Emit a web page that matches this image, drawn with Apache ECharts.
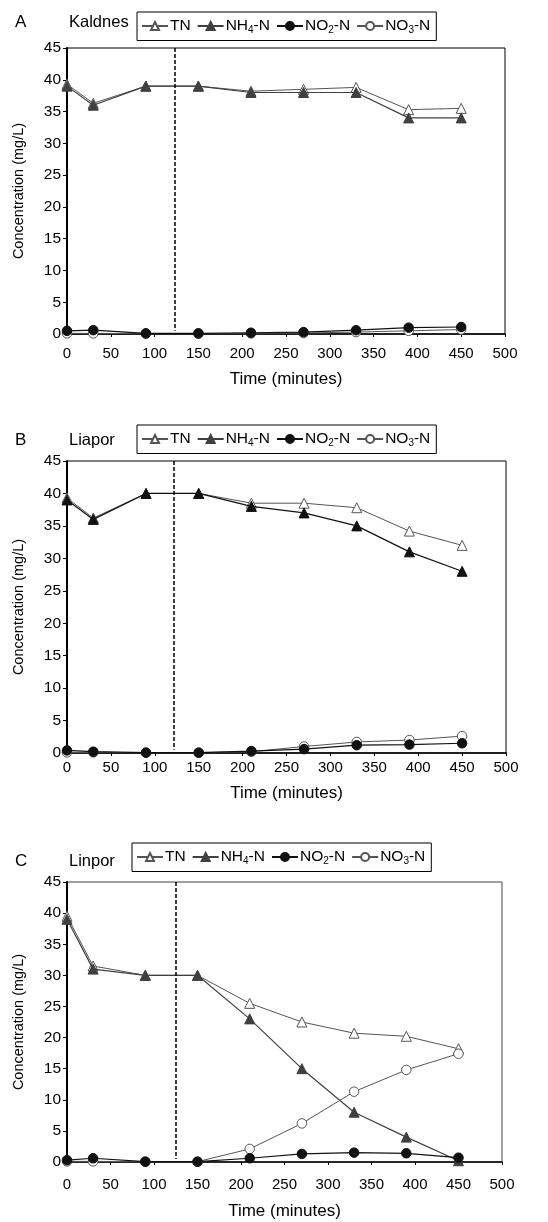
<!DOCTYPE html>
<html>
<head>
<meta charset="utf-8">
<script src="https://cdn.jsdelivr.net/npm/echarts@6/dist/echarts.min.js"></script>
<style>html,body{margin:0;padding:0;background:#fff;}#c{width:548px;height:1222px;}</style>
</head>
<body>
<div id="c"></div>
<script>
const times = [0, 30, 90, 150, 210, 270, 330, 390, 450];
const xTicks = [0, 50, 100, 150, 200, 250, 300, 350, 400, 450, 500];
const yTicks = [0, 5, 10, 15, 20, 25, 30, 35, 40, 45];
const seriesNames = ['TN', 'NH4-N', 'NO2-N', 'NO3-N'];
const panelLetters = ['A', 'B', 'C'];
const panelNames = ['Kaldnes', 'Liapor', 'Linpor'];
const aerationStop = [123, 122, 125];

const kaldnesTN  = [39.3, 36.3, 39.0, 39.0, 38.2, 38.5, 38.8, 35.3, 35.5];
const kaldnesNH4 = [39.0, 36.0, 39.0, 39.0, 38.0, 38.0, 38.0, 34.0, 34.0];
const kaldnesNO2 = [0.5, 0.6, 0.1, 0.1, 0.2, 0.3, 0.6, 1.0, 1.1];
const kaldnesNO3 = [0.1, 0.1, 0.05, 0.05, 0.1, 0.15, 0.3, 0.5, 0.7];

const liaporTN  = [39.3, 36.2, 40.0, 40.0, 38.5, 38.5, 37.8, 34.2, 32.0];
const liaporNH4 = [39.0, 36.0, 40.0, 40.0, 38.0, 37.0, 35.0, 31.0, 28.0];
const liaporNO2 = [0.4, 0.2, 0.05, 0.05, 0.3, 0.6, 1.2, 1.3, 1.5];
const liaporNO3 = [0.1, 0.1, 0.05, 0.05, 0.2, 1.0, 1.7, 2.0, 2.6];

const linporTN  = [39.5, 31.5, 30.0, 30.0, 25.5, 22.5, 20.7, 20.2, 18.2];
const linporNH4 = [39.0, 31.0, 30.0, 30.0, 23.0, 15.0, 8.0, 4.0, 0.2];
const linporNO2 = [0.3, 0.6, 0.05, 0.05, 0.6, 1.3, 1.5, 1.4, 0.7];
const linporNO3 = [0.1, 0.1, 0.05, 0.05, 2.1, 6.2, 11.3, 14.8, 17.4];

const panelData = [
  [kaldnesTN, kaldnesNH4, kaldnesNO2, kaldnesNO3],
  [liaporTN, liaporNH4, liaporNO2, liaporNO3],
  [linporTN, linporNH4, linporNO2, linporNO3]
];

const FONT = 'Liberation Sans, Arial, sans-serif';
const grids = [
  {left: 67, top: 48, width: 438, height: 286, borderColor: '#000'},
  {left: 67, top: 461, width: 439, height: 292, borderColor: '#000'},
  {left: 67, top: 882, width: 435, height: 280, borderColor: '#444'}
];
const labelMargins = [12, 7, 15];
const nameGaps = [37, 32, 41];
const legendPos = [{left: 137, top: 12}, {left: 137, top: 425}, {left: 132, top: 843}];
const titleTops = [9, 427, 848];
const nh4Colors = ['#404040', '#111', '#404040'];

const pair = (arr) => times.map((t, i) => [t, arr[i]]);

const option = {
  backgroundColor: '#fff',
  animation: false,
  textStyle: {fontFamily: FONT},
  grid: grids.map(g => Object.assign({show: true, borderWidth: 1, backgroundColor: 'transparent'}, g)),
  title: [],
  legend: [],
  xAxis: [],
  yAxis: [],
  series: []
};

const legendFormatter = (name) => {
  if (name === 'NH4-N') return 'NH{s|4}-N';
  if (name === 'NO2-N') return 'NO{s|2}-N';
  if (name === 'NO3-N') return 'NO{s|3}-N';
  return name;
};

for (let p = 0; p < 3; p++) {
  option.title.push({
    text: panelLetters[p], left: 10, top: titleTops[p],
    textStyle: {fontFamily: FONT, fontSize: 17, fontWeight: 'normal', color: '#000'}
  });
  option.title.push({
    text: panelNames[p], left: 64, top: titleTops[p],
    textStyle: {fontFamily: FONT, fontSize: 16.5, fontWeight: 'normal', color: '#000'}
  });
  option.legend.push({
    data: seriesNames.map(n => ({name: n})),
    left: legendPos[p].left, top: legendPos[p].top,
    orient: 'horizontal',
    itemWidth: 26, itemHeight: 10, itemGap: 6,
    padding: [6, 6, 5, 4],
    borderColor: '#000', borderWidth: 1,
    selectedMode: false,
    formatter: legendFormatter,
    textStyle: {
      fontFamily: FONT, fontSize: 15.5, color: '#000', padding: [0, 0, 0, -3],
      rich: {s: {fontFamily: FONT, fontSize: 10, color: '#000', padding: [9, 0, 0, 0]}}
    }
  });
  option.xAxis.push({
    type: 'value', gridIndex: p, min: 0, max: 500, interval: 50,
    name: 'Time (minutes)', nameLocation: 'middle', nameGap: nameGaps[p],
    nameTextStyle: {fontFamily: FONT, fontSize: 17, color: '#000'},
    axisLine: {show: true, lineStyle: {color: '#000', width: 1.5}},
    axisTick: {show: true, length: 3, lineStyle: {color: '#000'}},
    axisLabel: {fontFamily: FONT, fontSize: 15, color: '#000', margin: labelMargins[p],
      formatter: (v) => xTicks.indexOf(v) >= 0 ? String(v) : ''},
    splitLine: {show: false}
  });
  option.yAxis.push({
    type: 'value', gridIndex: p, min: 0, max: 45, interval: 5,
    name: 'Concentration (mg/L)', nameLocation: 'middle', nameGap: 41,
    nameTextStyle: {fontFamily: FONT, fontSize: 14.5, color: '#000'},
    axisLine: {show: true, lineStyle: {color: '#000', width: 2}},
    axisTick: {show: true, length: 4, lineStyle: {color: '#000'}},
    axisLabel: {fontFamily: FONT, fontSize: 15.5, color: '#000', margin: 6,
      formatter: (v) => yTicks.indexOf(v) >= 0 ? String(v) : ''},
    splitLine: {show: false}
  });
  const d = panelData[p];
  option.series.push({
    name: 'TN', type: 'line', xAxisIndex: p, yAxisIndex: p, data: pair(d[0]),
    symbol: 'triangle', symbolSize: 10, z: 3,
    lineStyle: {color: '#555', width: 1},
    itemStyle: {color: '#fff', borderColor: '#555', borderWidth: 1},
    markLine: {
      silent: true, symbol: ['none', 'none'], label: {show: false},
      lineStyle: {color: '#000', type: [4, 2], width: 1.5},
      data: [[{coord: [aerationStop[p], 45]}, {coord: [aerationStop[p], 0.5]}]]
    }
  });
  option.series.push({
    name: 'NH4-N', type: 'line', xAxisIndex: p, yAxisIndex: p, data: pair(d[1]),
    symbol: 'triangle', symbolSize: 10, z: 4,
    lineStyle: {color: nh4Colors[p], width: 1.2},
    itemStyle: {color: nh4Colors[p], borderColor: nh4Colors[p], borderWidth: 1}
  });
  option.series.push({
    name: 'NO2-N', type: 'line', xAxisIndex: p, yAxisIndex: p, data: pair(d[2]),
    symbol: 'circle', symbolSize: 9.5, z: 5,
    lineStyle: {color: '#111', width: 1.2},
    itemStyle: {color: '#111', borderColor: '#111', borderWidth: 1}
  });
  option.series.push({
    name: 'NO3-N', type: 'line', xAxisIndex: p, yAxisIndex: p, data: pair(d[3]),
    symbol: 'circle', symbolSize: 9.5, z: 4,
    lineStyle: {color: '#555', width: 1},
    itemStyle: {color: '#fff', borderColor: '#555', borderWidth: 1}
  });
}

const chart = echarts.init(document.getElementById('c'), null, {renderer: 'canvas'});
chart.setOption(option);
</script>
</body>
</html>
